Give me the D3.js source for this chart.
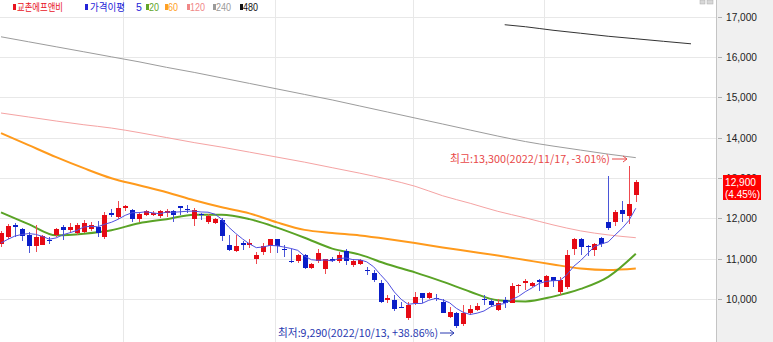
<!DOCTYPE html>
<html>
<head>
<meta charset="utf-8">
<script src="https://cdn.jsdelivr.net/npm/d3@7"></script>
<style>
body { margin: 0; background: #fff; }
svg { display: block; }
</style>
</head>
<body>
<svg id="chart" width="773" height="342"></svg>
<script>
// daily candles, oldest first
const opens = [11370, 11535, 11843, 11743, 11577, 11303, 11328, 11470, 11595, 11784,
	11700, 11627, 11660, 11727, 11784, 11535, 12132, 12033, 12240, 12200,
	11968, 12092, 12075, 12050, 12132, 12182, 12300, 12220, 11968, 12100,
	11908, 11890, 11968, 11345, 11180, 11400, 11320, 11000, 11150, 11310,
	11495, 11250, 10950, 10920, 11080, 10770, 10950, 10730, 11000, 10930,
	11180, 10850, 10870, 10720, 10650, 10400, 9960, 9983, 9810, 9520,
	9900, 10150, 10020, 10030, 9935, 9570, 9650, 9380, 9650, 9735,
	9990, 9960, 9735, 9975, 9920, 10330, 10390, 10310, 10470, 10310,
	10540, 10170, 10290, 11220, 11480, 11320, 11220, 11520, 11900, 11910,
	12200, 12050, 12580]
const highs = [11680, 11870, 11883, 11768, 11660, 11826, 11590, 11535, 11768, 11826,
	11883, 11883, 11950, 11908, 11933, 12157, 12240, 12430, 12340, 12240,
	12125, 12215, 12180, 12215, 12240, 12200, 12300, 12340, 12266, 12130,
	12100, 12020, 12000, 11577, 11577, 11430, 11480, 11170, 11400, 11495,
	11495, 11330, 11245, 11120, 11120, 10900, 11230, 11000, 11050, 11170,
	11250, 11000, 11000, 10800, 10720, 10480, 10090, 10090, 9930, 9930,
	10170, 10150, 10180, 10120, 9990, 9790, 9690, 9850, 9850, 9900,
	10100, 10000, 10000, 10060, 10400, 10370, 10500, 10430, 10500, 10600,
	10540, 10540, 11220, 11510, 11510, 11350, 11390, 11540, 13050, 12200,
	12430, 13300, 12950]
const lows = [11300, 11495, 11535, 11450, 11137, 11170, 11328, 11370, 11535, 11470,
	11635, 11577, 11627, 11685, 11535, 11495, 12033, 11992, 12180, 11900,
	11900, 12060, 12050, 12000, 12033, 11908, 12075, 12130, 11800, 11968,
	11860, 11860, 11450, 11200, 11170, 11220, 11270, 10875, 11080, 11150,
	11150, 11050, 10895, 10900, 10735, 10735, 10900, 10620, 10920, 10900,
	10840, 10800, 10850, 10600, 10430, 9910, 9900, 9710, 9785, 9490,
	9850, 9910, 10000, 9960, 9650, 9540, 9290, 9340, 9600, 9700,
	9850, 9830, 9700, 9770, 9890, 10150, 10220, 10290, 10190, 10290,
	10300, 10110, 10250, 11080, 11080, 11060, 11060, 11300, 11720, 11800,
	11910, 11850, 12400]
const closes = [11635, 11800, 11800, 11577, 11303, 11535, 11552, 11450, 11735, 11702,
	11780, 11826, 11883, 11826, 11635, 12092, 12075, 12266, 12300, 11968,
	12100, 12182, 12132, 12182, 12182, 12075, 12240, 12200, 12200, 12075,
	12050, 11990, 11577, 11220, 11303, 11360, 11380, 11100, 11310, 11495,
	11310, 11230, 10920, 11080, 10770, 10870, 11150, 10980, 10950, 11080,
	10920, 10950, 10960, 10700, 10470, 9935, 10020, 9750, 9785, 9850,
	10040, 10020, 10150, 10010, 9670, 9690, 9320, 9650, 9750, 9835,
	9960, 9850, 9900, 9890, 10330, 10350, 10440, 10390, 10420, 10580,
	10440, 10470, 11080, 11480, 11290, 11300, 11370, 11380, 11740, 12150,
	12110, 12350, 12900]

// 5-day line, one value per candle
const ma5 = [11390, 11480, 11560, 11600, 11623, 11603, 11553, 11483, 11515, 11595,
	11644, 11699, 11785, 11803, 11790, 11852, 11902, 11979, 12074, 12140,
	12142, 12163, 12136, 12113, 12156, 12151, 12162, 12176, 12179, 12158,
	12153, 12103, 11978, 11782, 11628, 11490, 11368, 11273, 11291, 11329,
	11319, 11289, 11253, 11207, 11062, 10974, 10958, 10970, 10944, 11006,
	11016, 10976, 10972, 10922, 10800, 10603, 10417, 10175, 9992, 9868,
	9889, 9889, 9969, 10014, 9978, 9908, 9768, 9668, 9616, 9649,
	9703, 9809, 9859, 9887, 9986, 10064, 10182, 10280, 10386, 10436,
	10454, 10460, 10598, 10810, 10952, 11124, 11304, 11364, 11416, 11588,
	11750, 11946, 12250]

// longer lines, read every 4th candle
const sampleIdx = [0, 4, 8, 12, 16, 20, 24, 28, 32, 36, 40, 44, 48, 52, 56, 60, 64, 68, 72, 76, 80, 84, 88, 92]
const ma20 = [12149, 11857, 11580, 11619, 11705, 11880, 11980, 12090, 12090, 11980, 11770, 11520,
	11250, 11100, 10860, 10660, 10430, 10180, 9970, 9940, 10059, 10250, 10550, 11122]
const ma60 = [14115, 13816, 13518, 13244, 12995, 12821, 12647, 12448, 12274, 12124, 11900, 11714,
	11639, 11577, 11490, 11390, 11278, 11179, 11079, 10967, 10856, 10756, 10719, 10756]
const ma120 = [14612, 14513, 14413, 14321, 14239, 14127, 14003, 13878, 13766, 13642, 13518, 13393,
	13256, 13120, 12970, 12796, 12560, 12373, 12174, 12012, 11838, 11689, 11589, 11520]
const ma240 = [16502, 16378, 16254, 16130, 16005, 15881, 15744, 15619, 15482, 15346, 15209, 15072,
	14936, 14786, 14637, 14488, 14339, 14189, 14040, 13904, 13792, 13692, 13592, 13505]
const ma480Idx = [73, 76, 80, 84, 88, 92, 96, 100]
const ma480 = [16801, 16751, 16664, 16590, 16515, 16453, 16390, 16328]

const yTicks = [10000, 11000, 12000, 13000, 14000, 15000, 16000, 17000]
const monthStarts = [18, 40, 60, 79]
const lastClose = 12900
const lastChange = '(4.45%)'
const highNote = '최고:13,300(2022/11/17, -3.01%)'
const lowNote = '최저:9,290(2022/10/13, +38.86%)'
const highIdx = 91
const lowIdx = 66

const legendItems = [
	{ text: '교촌에프앤비', color: '#e8141e', x: 13, w: 46 },
	{ text: '가격이평', color: '#2424d8', x: 85, w: 35 },
	{ text: '20', color: '#62a52a', x: 146, w: 10 },
	{ text: '60', color: '#ff9f24', x: 165, w: 10 },
	{ text: '120', color: '#f08888', x: 187, w: 15 },
	{ text: '240', color: '#9a9a9a', x: 213, w: 15 },
	{ text: '480', color: '#111', x: 240, w: 15 }
]

const plotRight = 716
const svg = d3.select('#chart')
const font = '"Liberation Sans", Arial, sans-serif'
const kfont = '"Noto Sans CJK KR", "Noto Sans", sans-serif'

const x = d3.scaleLinear().domain([0, 92]).range([1, 635.8])
const y = d3.scaleLinear().domain([10000, 17000]).range([299, 16.7])

const candles = closes.map((c, i) => ({ i, o: opens[i], h: highs[i], l: lows[i], c }))
const ly = Math.round(y(lastClose))

// right axis panel
svg.append('rect').attr('x', plotRight).attr('y', 0).attr('width', 773 - plotRight).attr('height', 342).attr('fill', '#f0f0f0')
svg.append('line').attr('x1', plotRight + 0.5).attr('x2', plotRight + 0.5).attr('y1', 0).attr('y2', 342)
	.attr('stroke', '#c4c4c4')

// the label under the price box only shows above it
svg.append('clipPath').attr('id', 'abovebox')
	.append('rect').attr('x', plotRight).attr('y', 0).attr('width', 60).attr('height', ly - 7)

// grid
const grid = svg.append('g').attr('shape-rendering', 'crispEdges')
grid.selectAll('line.h').data(yTicks).enter().append('line')
	.attr('x1', 0).attr('x2', plotRight)
	.attr('y1', d => Math.round(y(d)) + 0.5).attr('y2', d => Math.round(y(d)) + 0.5)
	.attr('stroke', '#e8e8e8')
grid.selectAll('line.v').data(monthStarts).enter().append('line')
	.attr('x1', d => Math.round(x(d)) - 1.5).attr('x2', d => Math.round(x(d)) - 1.5)
	.attr('y1', 0).attr('y2', 342)
	.attr('stroke', '#e8e8e8')

// axis labels
const axis = svg.append('g')
axis.selectAll('line').data(yTicks).enter().append('line')
	.attr('x1', plotRight + 2).attr('x2', plotRight + 6)
	.attr('y1', d => Math.round(y(d)) + 0.5).attr('y2', d => Math.round(y(d)) + 0.5)
	.attr('stroke', '#b0b0b0')
axis.selectAll('text').data(yTicks).enter().append('text')
	.attr('x', 726).attr('y', d => y(d) + 4)
	.attr('font-family', font).attr('font-size', 11).attr('fill', '#222')
	.attr('textLength', 31).attr('lengthAdjust', 'spacingAndGlyphs')
	.attr('clip-path', d => Math.abs(y(d) - ly) < 14 ? 'url(#abovebox)' : null)
	.text(d3.format(','))

// moving averages under the candles
const lineGen = d3.line().x(d => x(d[0])).y(d => y(d[1])).curve(d3.curveMonotoneX)
const maLines = [
	{ vals: ma480, idx: ma480Idx, color: '#333', w: 1 },
	{ vals: ma240, idx: sampleIdx, color: '#9c9c9c', w: 1 },
	{ vals: ma120, idx: sampleIdx, color: '#f5a3a3', w: 1 },
	{ vals: ma60, idx: sampleIdx, color: '#ff9a1c', w: 2 },
	{ vals: ma20, idx: sampleIdx, color: '#5aa326', w: 2 }
]
maLines.forEach(m => {
	svg.append('path').datum(m.vals.map((v, k) => [m.idx[k], v]))
		.attr('d', lineGen).attr('fill', 'none')
		.attr('stroke', m.color).attr('stroke-width', m.w)
})

// candles
const up = '#e60a14'
const down = '#0a1ec8'
const cg = svg.append('g').attr('shape-rendering', 'crispEdges')
cg.selectAll('line').data(candles).enter().append('line')
	.attr('x1', d => Math.round(x(d.i)) + 0.5).attr('x2', d => Math.round(x(d.i)) + 0.5)
	.attr('y1', d => Math.round(y(d.h))).attr('y2', d => Math.round(y(d.l)))
	.attr('stroke', d => d.c >= d.o ? '#ee4a50' : '#4a55d8')
cg.selectAll('rect').data(candles).enter().append('rect')
	.attr('x', d => Math.round(x(d.i)) - 2)
	.attr('width', 5)
	.attr('y', d => Math.round(y(Math.max(d.o, d.c))))
	.attr('height', d => Math.max(1, Math.round(Math.abs(y(d.o) - y(d.c)))))
	.attr('fill', d => d.c >= d.o ? up : down)

// 5-day line on top
svg.append('path').datum(ma5.map((v, i) => [i, v]))
	.attr('d', d3.line().x(d => x(d[0])).y(d => y(d[1])))
	.attr('fill', 'none').attr('stroke', '#5050e0').attr('stroke-width', 1)

// high / low notes
function note(text, color, idx, baseY, textRight) {
	const arrowY = baseY - 4
	svg.append('text').attr('x', textRight).attr('y', baseY)
		.attr('text-anchor', 'end')
		.attr('font-family', kfont).attr('font-size', 11).attr('fill', color)
		.attr('textLength', 160).attr('lengthAdjust', 'spacingAndGlyphs')
		.text(text)
	const tip = Math.round(x(idx)) - 2
	svg.append('line').attr('x1', textRight + 2).attr('x2', tip).attr('y1', arrowY).attr('y2', arrowY)
		.attr('stroke', color)
	svg.append('path').attr('d', `M${tip - 4},${arrowY - 3}L${tip},${arrowY}L${tip - 4},${arrowY + 3}`)
		.attr('fill', 'none').attr('stroke', color)
}
note(highNote, '#e84848', highIdx, 163, 610)
note(lowNote, '#2838b0', lowIdx, 337, 438)

// last price box
svg.append('rect').attr('x', 723).attr('y', ly - 7).attr('width', 38).attr('height', 25).attr('fill', '#ff0000')
svg.append('text').attr('x', 725).attr('y', ly + 4)
	.attr('font-family', font).attr('font-size', 11).attr('fill', '#fff')
	.attr('textLength', 31).attr('lengthAdjust', 'spacingAndGlyphs')
	.text(d3.format(',')(lastClose))
svg.append('text').attr('x', 725).attr('y', ly + 16)
	.attr('font-family', font).attr('font-size', 11).attr('fill', '#fff')
	.attr('textLength', 35).attr('lengthAdjust', 'spacingAndGlyphs')
	.text(lastChange)

// legend
const lg = svg.append('g')
legendItems.forEach((it, k) => {
	lg.append('rect').attr('x', it.x).attr('y', 4).attr('width', 3).attr('height', 6).attr('fill', it.color)
	lg.append('text').attr('x', it.x + (k === 0 ? 4 : k === 1 ? 5 : 3)).attr('y', 11)
		.attr('font-family', k < 2 ? kfont : font).attr('font-size', 10.5).attr('fill', it.color)
		.attr('textLength', it.w).attr('lengthAdjust', 'spacingAndGlyphs')
		.text(it.text)
})
lg.append('text').attr('x', 136).attr('y', 11)
	.attr('font-family', font).attr('font-size', 10.5).attr('fill', '#2424d8').text('5')

// small window buttons, top right
svg.append('rect').attr('x', 700).attr('y', 0).attr('width', 5).attr('height', 4).attr('fill', '#d8d8d8').attr('stroke', '#aaa').attr('stroke-width', 0.5)
svg.append('rect').attr('x', 707).attr('y', 0).attr('width', 6).attr('height', 4).attr('fill', '#d8d8d8').attr('stroke', '#aaa').attr('stroke-width', 0.5)
</script>
</body>
</html>
